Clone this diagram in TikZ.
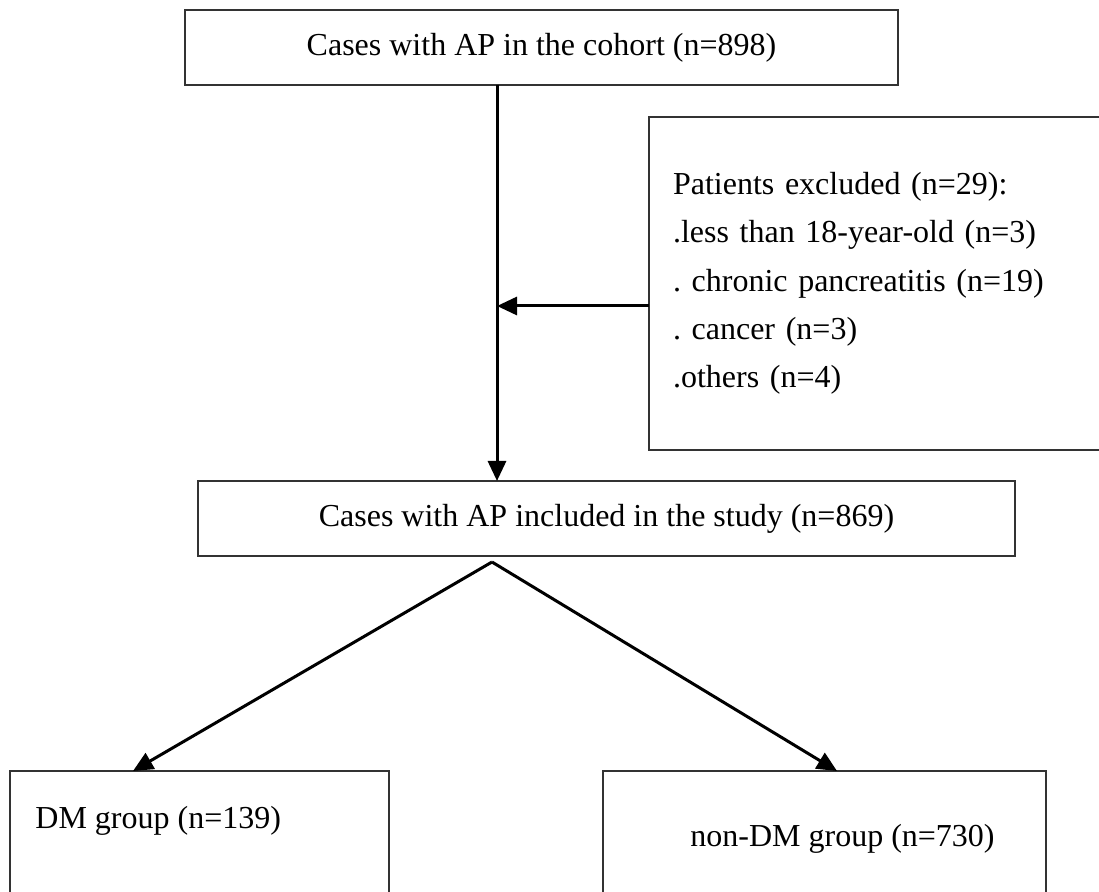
\documentclass[tikz,border=0pt]{standalone}
\usepackage{fontspec}
\setmainfont{Liberation Serif}
\usepackage{tikz}
\usetikzlibrary{positioning,arrows.meta}
\frenchspacing

\begin{document}
\begin{tikzpicture}[x=0.5pt,y=-0.5pt,
    box/.style={draw=black!80,line width=1pt,inner sep=0pt,outer sep=0pt,font=\fontsize{16}{24.15}\selectfont},
    grouptext/.style={anchor=base west,inner sep=0pt,font=\fontsize{16}{24.15}\selectfont},
    link/.style={line width=1.5pt,-{Triangle[length=10pt,width=9pt]}}]
    \useasboundingbox (0,0) rectangle (1099,892);
    \clip (0,0) rectangle (1099,892);

    \node[box,minimum width=356.5pt,minimum height=37.5pt] (cohort) at (541.5,47.5) {Cases with AP in the cohort (n=898)};
    \node[box,minimum width=408.5pt,minimum height=37.5pt,below=198pt of cohort,xshift=32.5pt] (incl) {Cases with AP included in the study (n=869)};
    \node[box,minimum width=240.5pt,minimum height=166.5pt,text width=216.5pt,inner xsep=12pt,align=left] (excl) at (889.5,283.5) {Patients excluded (n=29):\\.less than 18-year-old (n=3)\\. chronic pancreatitis (n=19)\\. cancer (n=3)\\.others (n=4)};
    \node[box,minimum width=189.5pt,minimum height=125pt] (dm) at (199.5,896) {};
    \node[box,minimum width=221.5pt,minimum height=125pt] (nondm) at (824.5,896) {};
    \node[grouptext] (dmtext) at ([xshift=12.5pt,yshift=-29pt]dm.north west) {DM group (n=139)};
    \node[grouptext] (nondmtext) at ([xshift=43.5pt,yshift=-38pt]nondm.north west) {non-DM group (n=730)};

    \coordinate (join) at (497,306);
    \coordinate (split) at (492,562);
    \draw[link] (cohort.south -| join) -- (incl.north -| join);
    \draw[link] ([yshift=-11.25pt]excl.west) -- (join);
    \draw[link] (split) -- ([xshift=-33.25pt]dm.north);
    \draw[link] (split) -- ([xshift=6.25pt]nondm.north);
\end{tikzpicture}
\end{document}
